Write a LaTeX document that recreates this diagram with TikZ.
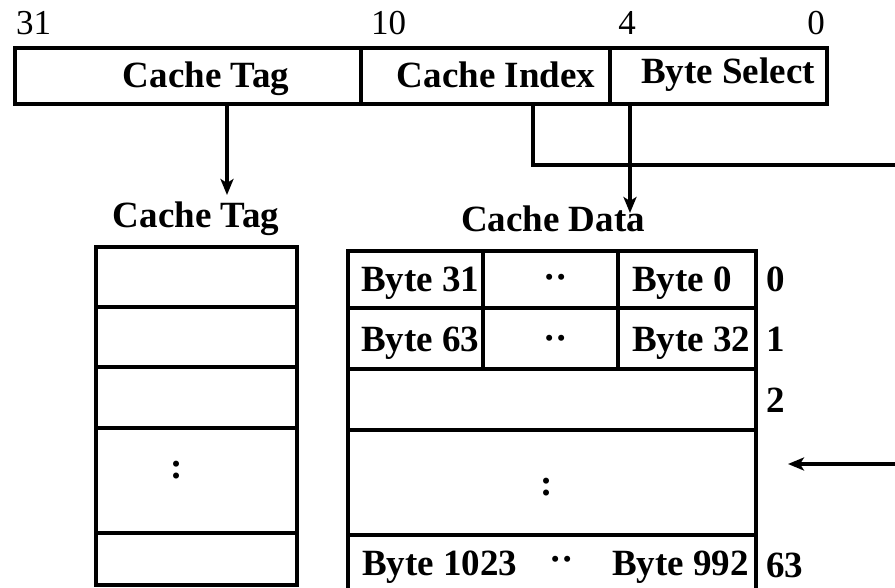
\documentclass[tikz,border=0pt]{standalone}
\usepackage{fontspec}
\setmainfont{Liberation Serif}
\usetikzlibrary{arrows.meta}

\tikzset{
  field/.style={draw, line width=4pt, inner sep=0pt, minimum height=56pt},
  cell/.style={draw, line width=4pt, inner sep=0pt},
  lbl/.style={inner sep=0pt, font=\fontsize{37}{42}\selectfont\bfseries},
  bitno/.style={inner sep=0pt, font=\fontsize{35}{40}\selectfont},
  wire/.style={line width=3.5pt},
  arr/.style={line width=3.5pt, -{Stealth[length=16pt,width=13pt,inset=4pt]}},
}

\begin{document}
\begin{tikzpicture}[x=1pt, y=-1pt]
\clip (0,0) rectangle (895,588);
\fill[white] (0,0) rectangle (895,588);

% address fields
\node[field, minimum width=346pt] (tagf) at (188,76) {};
\node[field, minimum width=249pt] (idxf) at (485.5,76) {};
\node[field, minimum width=217pt] (bsf)  at (718.5,76) {};

\node[lbl, anchor=base] (tagtxt) at (206,88) {Cache Tag};
\node[lbl, anchor=base] (idxtxt) at (496,88) {Cache Index};
\node[lbl, anchor=base] (bstxt)  at (728,84) {Byte Select};

% bit numbers
\node[bitno, anchor=base west] (b31) at (16,35) {31};
\node[bitno, anchor=base west] (b10) at (371,35) {10};
\node[bitno, anchor=base] (b4) at (627,35) {4};
\node[bitno, anchor=base] (b0) at (816,35) {0};

% array titles
\node[lbl, anchor=base] (tagttl) at (196,228) {Cache Tag};
\node[lbl, anchor=base] (datttl) at (553,232) {Cache Data};

% tag array
\node[cell, minimum width=201pt, minimum height=60pt]  (tg0) at (196.5,277) {};
\node[cell, minimum width=201pt, minimum height=60pt]  (tg1) at (196.5,337) {};
\node[cell, minimum width=201pt, minimum height=61pt]  (tg2) at (196.5,397.5) {};
\node[cell, minimum width=201pt, minimum height=105pt] (tg3) at (196.5,480.5) {};
\node[cell, minimum width=201pt, minimum height=52pt]  (tg4) at (196.5,559) {};
\node[lbl] (tgdots) at (177,470) {:};

% data array
\node[cell, minimum width=135pt, minimum height=57pt] (d0a) at (415.5,279.5) {};
\node[cell, minimum width=135pt, minimum height=57pt] (d0b) at (550.5,279.5) {};
\node[cell, minimum width=138pt, minimum height=57pt] (d0c) at (687,279.5) {};
\node[cell, minimum width=135pt, minimum height=61pt] (d1a) at (415.5,338.5) {};
\node[cell, minimum width=135pt, minimum height=61pt] (d1b) at (550.5,338.5) {};
\node[cell, minimum width=138pt, minimum height=61pt] (d1c) at (687,338.5) {};
\node[cell, minimum width=408pt, minimum height=61pt]  (d2) at (552,399.5) {};
\node[cell, minimum width=408pt, minimum height=105pt] (d3) at (552,482.5) {};
\node[cell, minimum width=408pt, minimum height=65pt]  (d4) at (552,567.5) {};

\node[lbl, anchor=base west] (t31) at (361,292) {Byte 31};
\node[lbl, anchor=base] (t0d) at (556,290) {··};
\node[lbl, anchor=base west] (t0) at (632,292) {Byte 0};
\node[lbl, anchor=base west] (t63) at (361,352) {Byte 63};
\node[lbl, anchor=base] (t1d) at (556,350) {··};
\node[lbl, anchor=base west] (t32) at (632,352) {Byte 32};
\node[lbl] (t3d) at (547,487) {:};
\node[lbl, anchor=base west] (t1023) at (362,575) {Byte 1023};
\node[lbl, anchor=base] (t4d) at (562,571) {··};
\node[lbl, anchor=base east] (t992) at (749,575) {Byte 992};

% row numbers
\node[lbl, anchor=base west] (r0) at (766,292) {0};
\node[lbl, anchor=base west] (r1) at (766,352) {1};
\node[lbl, anchor=base west] (r2) at (766,412) {2};
\node[lbl, anchor=base west] (r63) at (766,577) {63};

% connectors
\coordinate (tagdrop) at (227,195);
\coordinate (idxbend) at (533,165);
\coordinate (idxout) at (895,165);
\coordinate (bsdrop) at (630,213);
\coordinate (rowin) at (895,464);
\coordinate (rowtip) at (788,464);

\draw[arr] (tagf.south -| tagdrop) -- (tagdrop);
\draw[wire] (idxf.south -| idxbend) -- (idxbend) -- (idxout);
\draw[arr] (bsf.south -| bsdrop) -- (bsdrop);
\draw[arr] (rowin) -- (rowtip);
\end{tikzpicture}
\end{document}
